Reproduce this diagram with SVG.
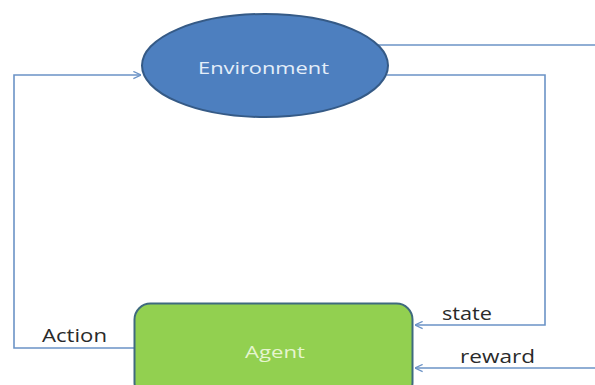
<svg xmlns="http://www.w3.org/2000/svg" width="595" height="385" viewBox="0 0 595 385">
<defs>
<style>
.conn{fill:none;stroke:#6b93c6;stroke-width:1.6}
.lbl{font-family:"Open Sans","Liberation Sans",Arial,sans-serif;font-size:18px;fill:#2a2a2a}
.ntxt{font-family:"Open Sans","Liberation Sans",Arial,sans-serif;font-size:17px}
</style>
<marker id="arr" viewBox="0 0 10 10" refX="9.5" refY="5" markerWidth="9" markerHeight="9" markerUnits="userSpaceOnUse" orient="auto">
<path d="M1,1 L9.5,5 L1,9" fill="none" stroke="#6b93c6" stroke-width="1.4"/>
</marker>
</defs>
<rect width="595" height="385" fill="#ffffff"/>
<g id="connectors">
<path class="conn" d="M135,348 H14 V75 H141" marker-end="url(#arr)"/>
<path class="conn" d="M387,75 H545 V325 H415" marker-end="url(#arr)"/>
<path class="conn" d="M378,45 H595"/>
<path class="conn" d="M595,368 H415" marker-end="url(#arr)"/>
</g>
<g id="environment">
<ellipse cx="265" cy="65.5" rx="123" ry="51.5" fill="#4d7fbf" stroke="#355a86" stroke-width="2"/>
<text class="ntxt" x="263.5" y="74" text-anchor="middle" fill="#e4eef9" textLength="131" lengthAdjust="spacingAndGlyphs">Environment</text>
</g>
<g id="agent">
<rect x="134.5" y="303.5" width="278" height="95" rx="16" fill="#92d050" stroke="#3f6a7e" stroke-width="2"/>
<text class="ntxt" x="275" y="358" text-anchor="middle" fill="#e6f5cf" font-size="18" textLength="60" lengthAdjust="spacingAndGlyphs">Agent</text>
</g>
<g id="labels">
<text class="lbl" x="42" y="342" textLength="65" lengthAdjust="spacingAndGlyphs">Action</text>
<text class="lbl" x="442" y="320" textLength="50" lengthAdjust="spacingAndGlyphs">state</text>
<text class="lbl" x="460" y="363" textLength="75" lengthAdjust="spacingAndGlyphs">reward</text>
</g>
</svg>
